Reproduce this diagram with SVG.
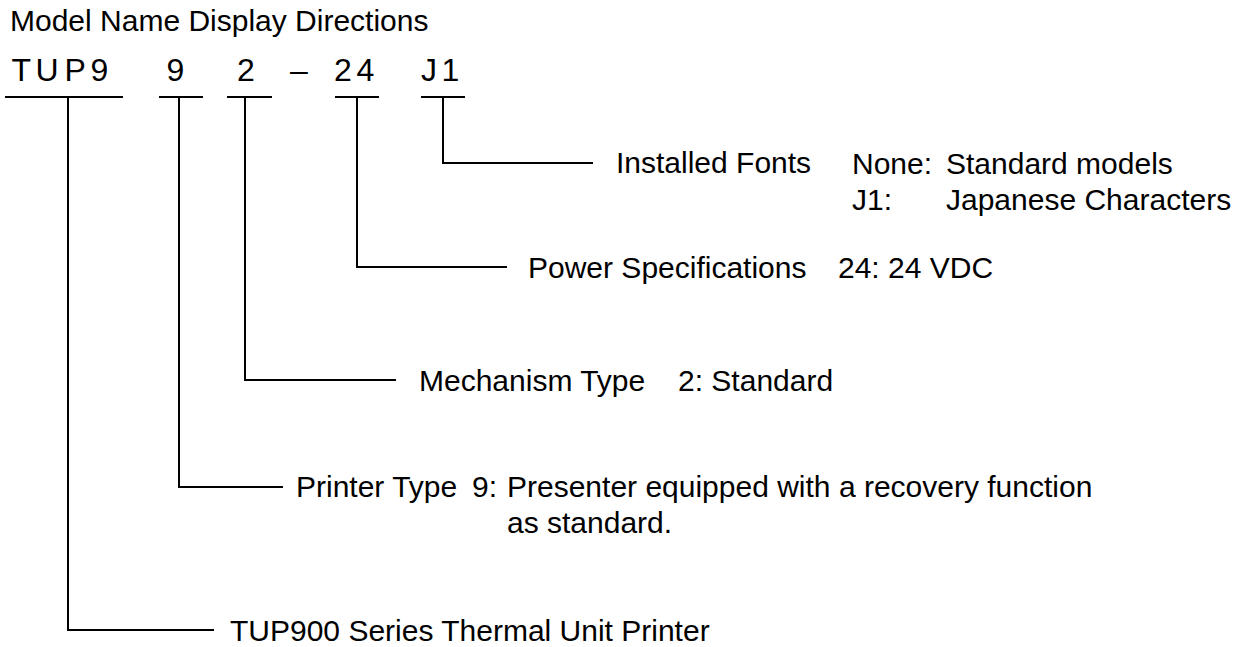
<svg xmlns="http://www.w3.org/2000/svg" width="1250" height="647" viewBox="0 0 1250 647">
<style>
text{font-family:"Liberation Sans",Arial,sans-serif;font-size:30px;fill:#000}
.code{font-size:32px}
.ln{stroke:#000;stroke-width:2;fill:none}
</style>
<rect width="1250" height="647" fill="#fff"/>
<text id="title" x="10" y="31">Model Name Display Directions</text>
<g id="model-code">
<text class="code" x="11.5 35.5 64.5 90.5" y="81">TUP9</text>
<text class="code" x="166.6" y="81">9</text>
<text class="code" x="237" y="81">2</text>
<text class="code" x="290" y="81">–</text>
<text class="code" x="334 356.5" y="81">24</text>
<text class="code" x="421 441.5" y="81">J1</text>
</g>
<g id="connectors" class="ln">
<path d="M5 97H123M68 97V630H214"/>
<path d="M159 97H203M179 97V487H283"/>
<path d="M227 97H272M245 97V380H396"/>
<path d="M335 97H379M357 97V267H507"/>
<path d="M421 97H465M443 97V163H593"/>
</g>
<g id="fonts">
<text x="616" y="173">Installed Fonts</text>
<text x="852" y="174">None:</text>
<text x="946" y="174">Standard models</text>
<text x="852" y="210">J1:</text>
<text x="946" y="210">Japanese Characters</text>
</g>
<g id="power">
<text x="528" y="278">Power Specifications</text>
<text x="838" y="278">24: 24 VDC</text>
</g>
<g id="mechanism">
<text x="419" y="391">Mechanism Type</text>
<text x="678" y="391">2: Standard</text>
</g>
<g id="printer">
<text x="296" y="497">Printer Type</text>
<text x="472" y="497">9:</text>
<text x="507" y="497">Presenter equipped with a recovery function</text>
<text x="507" y="533">as standard.</text>
</g>
<g id="series">
<text x="230" y="641">TUP900 Series Thermal Unit Printer</text>
</g>
</svg>
